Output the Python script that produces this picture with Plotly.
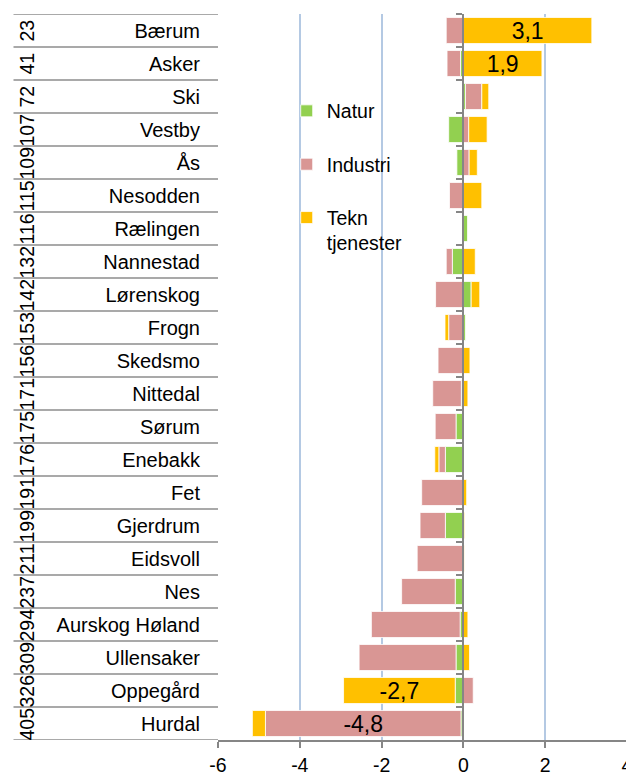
import plotly.graph_objects as go

# ---- data ----
kommuner = ["Bærum", "Asker", "Ski", "Vestby", "Ås", "Nesodden", "Rælingen",
            "Nannestad", "Lørenskog", "Frogn", "Skedsmo", "Nittedal", "Sørum",
            "Enebakk", "Fet", "Gjerdrum", "Eidsvoll", "Nes", "Aurskog Høland",
            "Ullensaker", "Oppegård", "Hurdal"]
rang = [23, 41, 72, 107, 109, 115, 116, 132, 142, 153, 156, 171, 175, 176,
        191, 199, 211, 237, 294, 309, 326, 405]
natur = [0.00, -0.07, 0.05, -0.36, -0.16, 0.00, 0.11, -0.27, 0.19, 0.05, 0.00,
         -0.05, -0.18, -0.44, 0.00, -0.44, 0.00, -0.20, -0.08, -0.18, -0.20, -0.06]
industri = [-0.42, -0.33, 0.40, 0.13, 0.14, -0.34, -0.03, -0.15, -0.68, -0.36,
            -0.62, -0.70, -0.51, -0.16, -1.02, -0.62, -1.13, -1.31, -2.17, -2.37,
            0.24, -4.78]
tekn = [3.14, 1.92, 0.17, 0.45, 0.20, 0.45, 0.00, 0.29, 0.21, -0.09, 0.16, 0.11,
        0.00, -0.10, 0.08, 0.03, 0.02, 0.00, 0.11, 0.15, -2.73, -0.32]
merket_industri = ["Hurdal"]
merket_tekn = ["Bærum", "Asker", "Oppegård"]
x_range = [-6, 4]
x_ticks = [-6, -4, -2, 0, 2, 4]
x_ticktext = ["-6", "-4", "-2", "0", "2", "4"]

FONT = "Liberation Sans, Arial, sans-serif"
GRAY = "#868686"


def fmt(v):
    return f"{v:.1f}".replace(".", ",")


def labels(vals, merket):
    return [fmt(v) if k in merket else "" for k, v in zip(kommuner, vals)]


fig = go.Figure()
series = [
    ("Natur", natur, "#92D050", []),
    ("Industri", industri, "#D99694", merket_industri),
    ("Tekn<br>tjenester", tekn, "#FFC000", merket_tekn),
]
for name, vals, color, merket in series:
    fig.add_trace(go.Bar(
        y=kommuner, x=vals, orientation="h", name=name, legendgroup=name,
        marker=dict(color=color, line=dict(color="white", width=0.8)),
        text=labels(vals, merket), textposition="inside",
        insidetextanchor="middle", textangle=0, constraintext="none",
        textfont=dict(size=23, color="black", family=FONT),
        hoverinfo="x+y+name",
    ))

# invisible trace so the zero-axis (y2) knows the categories
fig.add_trace(go.Scatter(
    x=[0] * len(kommuner), y=kommuner, yaxis="y2", mode="markers",
    marker=dict(opacity=0), showlegend=False, hoverinfo="skip",
))

n = len(kommuner)
yrange = [n - 0.5, -0.5]
zero_pos = (0 - x_range[0]) / (x_range[1] - x_range[0])

shapes = []
for i in range(n + 1):
    shapes.append(dict(type="line", xref="paper", yref="y",
                       x0=-0.50, x1=0, y0=i - 0.5, y1=i - 0.5,
                       line=dict(color="#8C8C8C", width=1.5), layer="above"))

annotations = []
for k, r in zip(kommuner, rang):
    annotations.append(dict(xref="paper", yref="y", x=-0.467, y=k,
                            text=str(r), textangle=-90, showarrow=False,
                            xanchor="center", yanchor="middle",
                            font=dict(size=19.5, color="black", family=FONT)))

# the page body adds an 8 px margin, so the figure is 8 px smaller
fig.update_layout(
    width=626, height=767,
    margin=dict(l=210, r=7, t=6, b=35, autoexpand=False),
    paper_bgcolor="white", plot_bgcolor="white",
    barmode="relative", bargap=0.21,
    font=dict(family=FONT, size=19.5, color="black"),
    xaxis=dict(range=x_range, tickvals=x_ticks, ticktext=x_ticktext,
               automargin=False,
               showgrid=True, gridcolor="#B4C9E3", gridwidth=1.6,
               zeroline=False, showline=True, linecolor=GRAY, linewidth=2,
               ticks="outside", ticklen=6, tickwidth=2, tickcolor=GRAY,
               ticklabelstandoff=1,
               tickfont=dict(size=19.5, color="black", family=FONT)),
    yaxis=dict(type="category", categoryorder="array", categoryarray=kommuner,
               range=yrange, automargin=False,
               showgrid=False, zeroline=False, showline=False,
               ticks="", ticklabelstandoff=17,
               tickfont=dict(size=20, color="black", family=FONT)),
    yaxis2=dict(type="category", categoryorder="array", categoryarray=kommuner,
                range=yrange, overlaying="y", anchor="free", position=zero_pos,
                automargin=False,
                side="left", showline=True, linecolor=GRAY, linewidth=2,
                ticks="outside", tickson="boundaries", ticklen=6, tickwidth=2,
                tickcolor=GRAY, showticklabels=False, showgrid=False,
                zeroline=False),
    legend=dict(x=0.168, y=0.893, xanchor="left", yanchor="top",
                bgcolor="rgba(0,0,0,0)", traceorder="grouped",
                tracegroupgap=25, valign="top",
                font=dict(size=19.5, color="black", family=FONT)),
    shapes=shapes,
    annotations=annotations,
)

fig.write_html("out.html")
